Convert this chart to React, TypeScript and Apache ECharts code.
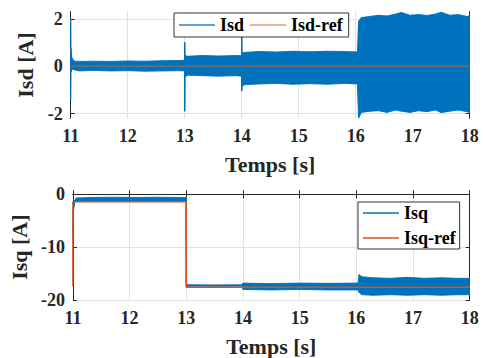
import React, { useEffect, useRef } from 'react';
import * as echarts from 'echarts';

// ---- Data ----
const xTicks = [11, 12, 13, 14, 15, 16, 17, 18];
const isdTicks = [-2, 0, 2];
const isqTicks = [-20, -10, 0];

// Isd envelope (upper / lower edge of the oscillating trace)
const isdT = [11.0, 11.004, 11.02, 11.06, 11.15, 11.4, 11.7, 12.0, 12.3, 12.6, 12.9, 12.998, 13.0, 13.006, 13.05, 13.3, 13.6, 13.9, 13.998, 14.0, 14.006, 14.05, 14.3, 14.6, 14.9, 15.2, 15.5, 15.8, 16.03, 16.05, 16.1, 16.25, 16.4, 16.55, 16.7, 16.8, 16.95, 17.1, 17.25, 17.4, 17.5, 17.65, 17.8, 17.95, 18.0];
const isdUpper = [2.0, 0.75, 0.35, 0.22, 0.2, 0.21, 0.2, 0.22, 0.21, 0.23, 0.24, 0.25, 1.0, 0.45, 0.42, 0.45, 0.43, 0.45, 0.44, 1.22, 0.55, 0.58, 0.62, 0.6, 0.63, 0.61, 0.63, 0.62, 0.6, 1.9, 2.05, 2.1, 2.15, 2.12, 2.2, 2.27, 2.15, 2.18, 2.14, 2.2, 2.28, 2.15, 2.18, 2.1, 2.12];
const isdLower = [-1.4, -0.25, -0.12, -0.15, -0.2, -0.18, -0.2, -0.19, -0.21, -0.2, -0.19, -0.2, -1.9, -0.45, -0.38, -0.4, -0.42, -0.4, -0.42, -1.05, -0.85, -0.78, -0.75, -0.73, -0.76, -0.74, -0.76, -0.73, -0.75, -2.2, -1.95, -1.9, -1.88, -1.95, -1.85, -1.9, -1.95, -1.88, -1.92, -1.85, -1.96, -1.9, -1.85, -1.92, -1.95];
const isdRefT = [11, 18];
const isdRefV = [0, 0];

// Isq envelope
const isqT = [11.0, 11.006, 11.03, 11.06, 11.3, 11.7, 12.1, 12.5, 12.9, 12.998, 13.0, 13.006, 13.5, 13.998, 14.0, 14.5, 15.0, 15.5, 16.03, 16.05, 16.1, 16.3, 16.6, 16.9, 17.2, 17.5, 17.8, 18.0];
const isqUpper = [-7.5, -3.0, -1.2, -0.7, -0.6, -0.55, -0.6, -0.55, -0.6, -0.6, -0.6, -17.1, -17.15, -17.1, -16.8, -16.9, -16.8, -16.85, -16.8, -15.2, -15.6, -15.8, -15.9, -15.7, -15.9, -15.8, -15.9, -15.9];
const isqLower = [-8.0, -3.5, -1.6, -1.3, -1.25, -1.25, -1.25, -1.25, -1.25, -1.25, -17.4, -17.4, -17.4, -17.4, -18.0, -18.1, -18.0, -18.1, -18.1, -18.6, -19.0, -19.1, -19.0, -19.1, -19.0, -19.1, -19.0, -19.0];
const isqRefT = [11, 11, 13, 13, 18];
const isqRefV = [-17.4, -1.4, -1.4, -17.6, -17.6];

const BLUE = '#0072BD';
const ORANGE = '#D95319';
const AX = '#262626';
const GRIDC = '#e2e2e2';
const FONT = "'Liberation Serif', 'Times New Roman', serif";

const pairs = (t: number[], v: number[]) => t.map((x, i) => [x, v[i]]);
const bandRows = (t: number[], hi: number[], lo: number[]) => t.map((x, i) => [x, hi[i], lo[i]]);

function bandRenderer(t: number[], hi: number[], lo: number[]) {
  return (params: any, api: any) => {
    const i = params.dataIndex;
    if (i >= t.length - 1) return null;
    const pts = [
      api.coord([t[i], hi[i]]),
      api.coord([t[i + 1], hi[i + 1]]),
      api.coord([t[i + 1], lo[i + 1]]),
      api.coord([t[i], lo[i]]),
    ];
    return {
      type: 'polygon',
      shape: { points: pts },
      style: { fill: BLUE, stroke: BLUE, lineWidth: 0.9 },
    };
  };
}

function mainX(gridIndex: number) {
  return {
    type: 'value', gridIndex, min: xTicks[0], max: xTicks[xTicks.length - 1], interval: 1,
    position: 'bottom',
    axisLine: { show: true, lineStyle: { color: AX, width: 1 } },
    axisTick: { show: true, inside: true, length: 4, lineStyle: { color: AX } },
    axisLabel: { margin: 9, color: AX, fontFamily: FONT, fontWeight: 'bold', fontSize: 18 },
    splitLine: { show: true, lineStyle: { color: GRIDC, width: 1 } },
    name: 'Temps [s]', nameLocation: 'middle', nameGap: 35,
    nameTextStyle: { color: AX, fontFamily: FONT, fontWeight: 'bold', fontSize: 22 },
  };
}
function topX(gridIndex: number) {
  return {
    type: 'value', gridIndex, min: xTicks[0], max: xTicks[xTicks.length - 1], interval: 1,
    position: 'top',
    axisLine: { show: true, lineStyle: { color: AX, width: 1 } },
    axisTick: { show: true, inside: true, length: 4, lineStyle: { color: AX } },
    axisLabel: { show: false },
    splitLine: { show: false },
  };
}
function leftY(gridIndex: number, min: number, max: number, ticks: number[], name: string) {
  return {
    type: 'value', gridIndex, min, max, position: 'left',
    axisLine: { show: true, lineStyle: { color: AX, width: 1 } },
    axisTick: { show: true, inside: true, length: 4, lineStyle: { color: AX }, customValues: ticks },
    axisLabel: { margin: 8, color: AX, fontFamily: FONT, fontWeight: 'bold', fontSize: 18, customValues: ticks },
    splitLine: { show: true, lineStyle: { color: GRIDC, width: 1 } },
    name, nameLocation: 'middle', nameGap: 33,
    nameTextStyle: { color: AX, fontFamily: FONT, fontWeight: 'bold', fontSize: 22 },
  };
}
function rightY(gridIndex: number, min: number, max: number, ticks: number[]) {
  return {
    type: 'value', gridIndex, min, max, position: 'right',
    axisLine: { show: true, lineStyle: { color: AX, width: 1 } },
    axisTick: { show: true, inside: true, length: 4, lineStyle: { color: AX }, customValues: ticks },
    axisLabel: { show: false, customValues: ticks },
    splitLine: { show: false },
  };
}

const legendText = { color: '#000', fontFamily: FONT, fontWeight: 'bold', fontSize: 18 };

export default function App() {
  const ref = useRef<HTMLDivElement>(null);
  useEffect(() => {
    if (!ref.current) return;
    const chart = echarts.init(ref.current, null, { renderer: 'svg' });
    chart.setOption({
      animation: false,
      backgroundColor: '#fff',
      grid: [
        { left: 70.7, right: 13.3, top: 11.7, height: 106.6 },
        { left: 70.7, right: 13.3, top: 194.3, height: 106.2 },
      ],
      xAxis: [mainX(0), topX(0), mainX(1), topX(1)],
      yAxis: [
        leftY(0, -2.2, 2.3, isdTicks, 'Isd [A]'),
        rightY(0, -2.2, 2.3, isdTicks),
        leftY(1, -20, 0, isqTicks, 'Isq [A]'),
        rightY(1, -20, 0, isqTicks),
      ],
      legend: [
        {
          orient: 'horizontal', left: 174, top: 13, padding: [3, 6, 3, 5], itemGap: 6,
          itemWidth: 36, itemHeight: 1.5, icon: 'rect',
          backgroundColor: '#fff', borderColor: '#333', borderWidth: 1, borderRadius: 0,
          textStyle: legendText,
          data: [
            { name: 'Isd', itemStyle: { color: '#2a86cc' } },
            { name: 'Isd-ref', itemStyle: { color: '#e8957a' } },
          ],
        },
        {
          orient: 'vertical', left: 358, top: 202, padding: [2, 4, 2, 5], itemGap: 7,
          itemWidth: 36, itemHeight: 1.5, icon: 'rect',
          backgroundColor: '#fff', borderColor: '#333', borderWidth: 1, borderRadius: 0,
          textStyle: legendText,
          data: [
            { name: 'Isq', itemStyle: { color: BLUE } },
            { name: 'Isq-ref', itemStyle: { color: ORANGE } },
          ],
        },
      ],
      series: [
        {
          name: 'Isd', type: 'custom', xAxisIndex: 0, yAxisIndex: 0, clip: true,
          data: bandRows(isdT, isdUpper, isdLower), encode: { x: 0, y: [1, 2] },
          itemStyle: { color: BLUE },
          renderItem: bandRenderer(isdT, isdUpper, isdLower),
        },
        {
          name: 'Isd-ref', type: 'line', xAxisIndex: 0, yAxisIndex: 0, symbol: 'none', z: 3,
          data: pairs(isdRefT, isdRefV), lineStyle: { color: '#6a6a6a', width: 2 }, itemStyle: { color: ORANGE },
        },
        {
          name: 'Isq', type: 'custom', xAxisIndex: 2, yAxisIndex: 2, clip: true,
          data: bandRows(isqT, isqUpper, isqLower), encode: { x: 0, y: [1, 2] },
          itemStyle: { color: BLUE },
          renderItem: bandRenderer(isqT, isqUpper, isqLower),
        },
        {
          name: 'Isq-ref', type: 'line', xAxisIndex: 2, yAxisIndex: 2, symbol: 'none', z: 3,
          data: pairs(isqRefT, isqRefV), lineStyle: { color: ORANGE, width: 1.5 }, itemStyle: { color: ORANGE },
        },
      ],
    });
    return () => chart.dispose();
  }, []);
  return <div ref={ref} style={{ position: 'fixed', left: 0, top: 0, width: 483, height: 358 }} />;
}
